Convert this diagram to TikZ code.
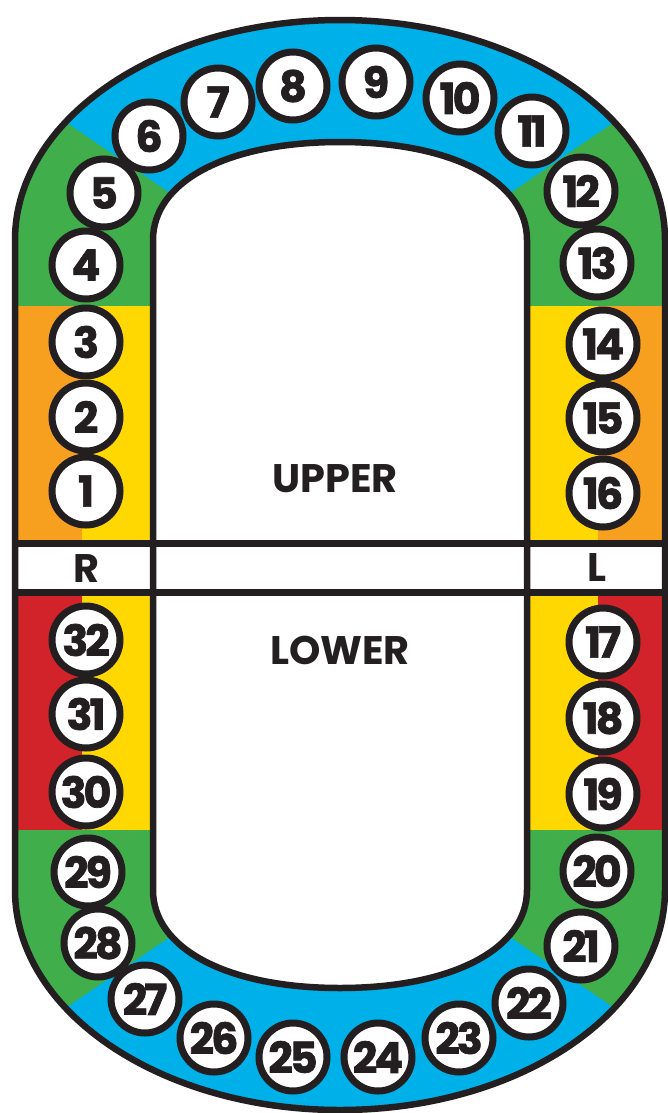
\documentclass[tikz,border=0pt]{standalone}
\usepackage{fontspec}
\setmainfont{Poppins}
\newfontfamily\numfont{Poppins}[LetterSpace=-7, BoldFeatures={FakeBold=1.6}]
\definecolor{tblue}{HTML}{00B0E8}
\definecolor{tgreen}{HTML}{40AE4A}
\definecolor{torange}{HTML}{F7A01F}
\definecolor{tyellow}{HTML}{FED800}
\definecolor{tred}{HTML}{D2232A}
\definecolor{tblack}{HTML}{231F20}
\tikzset{
  seat/.style={circle, draw=tblack, line width=7bp, fill=white, minimum size=68bp, inner sep=0pt,
    font=\numfont\bfseries\fontsize{43}{43}\selectfont, text=tblack},
  side/.style={font=\bfseries\fontsize{40}{40}\selectfont, text=tblack, inner sep=0pt},
  zone/.style={font=\bfseries\fontsize{40}{40}\selectfont, text=tblack, inner sep=0pt},
  border/.style={draw=tblack, line width=6.5bp}
}
\begin{document}
\begin{tikzpicture}[x=1bp,y=-1bp]
\useasboundingbox (0,0) rectangle (668,1113);
\def\outerpath{(15,240) -- (15,890) arc[start angle=180,end angle=0,x radius=325,y radius=220] -- (665,240) arc[start angle=0,end angle=-180,x radius=325,y radius=220] -- cycle}
\def\innerpath{(153,240) -- (153,890) .. controls (153,949) and (228,988) .. (340,988) .. controls (452,988) and (527,949) .. (527,890) -- (527,240) .. controls (527,181) and (452,142) .. (340,142) .. controls (228,142) and (153,181) .. (153,240) -- cycle}
% coloured zones
\begin{scope}
\clip \outerpath;
\fill[tblue] (0,0) rectangle (668,1113);
\fill[tgreen] (0,77.5) -- (230,234) -- (230,306) -- (0,306) -- cycle;
\fill[tgreen] (680,77.5) -- (450,234) -- (450,306) -- (680,306) -- cycle;
\fill[tgreen] (0,1052.5) -- (230,896) -- (230,830) -- (0,830) -- cycle;
\fill[tgreen] (680,1052.5) -- (450,896) -- (450,830) -- (680,830) -- cycle;
\fill[torange] (0,306) rectangle (82,543);
\fill[tyellow] (82,306) rectangle (160,543);
\fill[tyellow] (520,306) rectangle (598,543);
\fill[torange] (598,306) rectangle (680,543);
\fill[tred] (0,592) rectangle (82,830);
\fill[tyellow] (82,592) rectangle (160,830);
\fill[tyellow] (520,592) rectangle (598,830);
\fill[tred] (598,592) rectangle (680,830);
\fill[white] (0,543) rectangle (680,592);
\end{scope}
% inner field
\fill[white] \innerpath;
\draw[border] \innerpath;
% R / L band
\coordinate (bl1) at (15,543.5); \coordinate (br1) at (665,543.5);
\coordinate (bl2) at (15,592.5); \coordinate (br2) at (665,592.5);
\draw[tblack, line width=7bp] (bl1) -- (br1);
\draw[tblack, line width=7bp] (bl2) -- (br2);
\draw[border] \outerpath;
\node[side] (r) at (86,569) {R};
\node[side] (l) at (597,568) {L};
\node[zone] (upper) at (335,479) {UPPER};
\node[zone] (lower) at (340,650) {LOWER};
% seats
\foreach \n/\x/\y in {1/86/491, 2/86/417, 3/86/342, 4/86/265, 5/104/193, 6/149/136, 7/218/102, 8/293/86,
  9/376/82, 10/460/98, 11/532/131, 12/581/191, 13/597/263, 14/603/344, 15/603/418, 16/603/493,
  17/603/642, 18/603/718, 19/603/794, 20/597/871, 21/581/946, 22/529/1003, 23/459/1038, 24/378/1057,
  25/293/1057, 26/214/1038, 27/145/999, 28/98/943, 29/88/872, 30/86/792, 31/86/714, 32/86/640}
  \node[seat] (c\n) at (\x,\y) {\n};
\end{tikzpicture}
\end{document}
